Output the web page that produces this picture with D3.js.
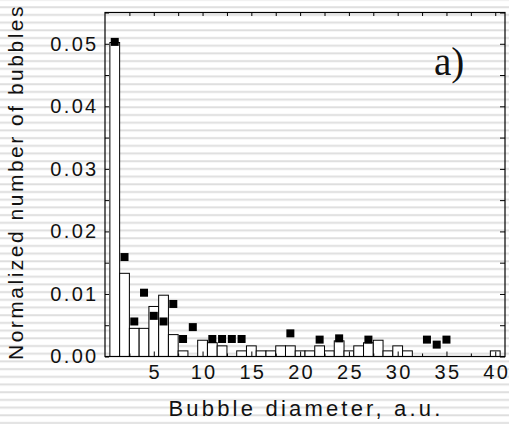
<!DOCTYPE html>
<html lang="en">
<head>
    <meta charset="UTF-8">
    <title>Bubble diameter distribution</title>
    <style>
        body { margin: 0; background: #fff; }
        svg { display: block; }
        .tick text {
          font-family: "Liberation Sans", Arial, sans-serif;
          font-size: 20px;
          letter-spacing: 2.3px;
          fill: #111;
        }
        .tick line { stroke: #000; }
        .title {
          font-family: "Liberation Sans", Arial, sans-serif;
          fill: #111;
        }
    </style>
</head>
<body>
    <svg width="509" height="424"></svg>
    <script src="https://d3js.org/d3.v7.min.js"></script>
    <script>
        // bin centres (bubble diameter) and the histogram heights
        const diameters = d3.range(1, 41);
        const barValues = [
            0.0502, 0.0133, 0.0045, 0.0045, 0.0080, 0.0098, 0.0035, 0.0009, 0.0000, 0.0026,
            0.0022, 0.0017, 0.0000, 0.0009, 0.0017, 0.0009, 0.0009, 0.0017, 0.0017, 0.0009,
            0.0009, 0.0017, 0.0009, 0.0025, 0.0009, 0.0017, 0.0022, 0.0026, 0.0009, 0.0017,
            0.0009, 0.0000, 0.0000, 0.0000, 0.0000, 0.0000, 0.0000, 0.0000, 0.0000, 0.0009
        ];
        // filled squares
        const squareX = [1, 2, 3, 4, 5, 6, 7, 8, 9, 11, 12, 13, 14, 19, 22, 24, 27, 33, 34, 35];
        const squareValues = [
            0.0503, 0.0159, 0.0056, 0.0102, 0.0065, 0.0056, 0.0084, 0.0028, 0.0047, 0.0028,
            0.0028, 0.0028, 0.0028, 0.0037, 0.0027, 0.0029, 0.0027, 0.0027, 0.0019, 0.0027
        ];
        const xTickLabels = [5, 10, 15, 20, 25, 30, 35, 40];
        const yTickLabels = [0, 0.01, 0.02, 0.03, 0.04, 0.05];

        const svg = d3.select("svg"),
              width = +svg.attr("width"),
              height = +svg.attr("height");

        const mLeft = 105, mRight = 505, mTop = 12.5, mBottom = 356.5;

        // striped background
        const pat = svg.append("defs").append("pattern")
            .attr("id", "stripes")
            .attr("patternUnits", "userSpaceOnUse")
            .attr("width", 10)
            .attr("height", 7.7)
            .attr("y", 6);
        pat.append("rect").attr("width", 10).attr("height", 7.7).attr("fill", "#fff");
        pat.append("rect").attr("width", 10).attr("height", 2.4).attr("fill", "#eeeeee");
        pat.append("rect").attr("y", 0.5).attr("width", 10).attr("height", 1.4).attr("fill", "#dedede");

        svg.append("rect")
            .attr("width", width)
            .attr("height", height)
            .attr("fill", "url(#stripes)");

        const x = d3.scaleLinear().domain([0, 41]).range([mLeft, mRight]);
        const y = d3.scaleLinear().domain([0, 0.055]).range([mBottom, mTop]);

        const binW = x(1) - x(0);

        // bars
        svg.append("g")
            .selectAll("rect")
            .data(diameters.filter((d, i) => barValues[i] > 0))
            .enter().append("rect")
            .attr("x", d => x(d - 0.5))
            .attr("y", d => y(barValues[d - 1]))
            .attr("width", d => Math.min(binW, mRight - x(d - 0.5)))
            .attr("height", d => y(0) - y(barValues[d - 1]))
            .attr("fill", "#fff")
            .attr("stroke", "#000")
            .attr("stroke-width", 1);

        // frame
        svg.append("rect")
            .attr("x", mLeft)
            .attr("y", mTop)
            .attr("width", mRight - mLeft)
            .attr("height", mBottom - mTop)
            .attr("fill", "none")
            .attr("stroke", "#000")
            .attr("stroke-width", 1.2);

        // squares
        svg.append("g")
            .selectAll("rect")
            .data(squareX)
            .enter().append("rect")
            .attr("x", d => x(d) - 4)
            .attr("y", (d, i) => y(squareValues[i]) - 4)
            .attr("width", 8)
            .attr("height", 8)
            .attr("fill", "#000");

        // axes: ticks pointing inside
        const xMinor = d3.range(2.5, 41, 2.5);
        const yMinor = d3.range(0, 0.0551, 0.005);

        const bottomAxis = svg.append("g")
            .attr("transform", `translate(0,${mBottom})`)
            .call(d3.axisBottom(x).tickValues(xMinor).tickSizeInner(-4).tickSizeOuter(0).tickPadding(8)
                .tickFormat(d => xTickLabels.includes(d) ? d : ""));
        bottomAxis.selectAll(".tick line").attr("y2", d => d % 5 === 0 ? -5 : -3);
        bottomAxis.selectAll(".tick text").attr("dx", "1px");

        svg.append("g")
            .attr("transform", `translate(0,${mTop})`)
            .call(d3.axisTop(x).tickValues(xMinor).tickSizeInner(-3.5).tickSizeOuter(0).tickFormat(""));

        svg.append("g")
            .attr("transform", `translate(${mLeft},0)`)
            .call(d3.axisLeft(y).tickValues(yMinor).tickSizeInner(-4).tickSizeOuter(0).tickPadding(6.5)
                .tickFormat(d => yTickLabels.some(v => Math.abs(v - d) < 1e-9) ? d3.format(".2f")(d) : ""));

        svg.append("g")
            .attr("transform", `translate(${mRight},0)`)
            .call(d3.axisRight(y).tickValues(yMinor).tickSizeInner(-5).tickSizeOuter(0).tickFormat(""));

        svg.selectAll(".domain").remove();

        // titles
        svg.append("text")
            .attr("class", "title")
            .attr("x", 306)
            .attr("y", 416)
            .attr("text-anchor", "middle")
            .style("font-size", "22px")
            .style("letter-spacing", "3.2px")
            .text("Bubble diameter, a.u.");

        svg.append("text")
            .attr("class", "title")
            .attr("transform", "translate(23,182) rotate(-90)")
            .attr("text-anchor", "middle")
            .style("font-size", "21px")
            .style("letter-spacing", "2.5px")
            .text("Normalized number of bubbles");

        svg.append("text")
            .attr("x", 434)
            .attr("y", 75)
            .attr("font-family", "'Liberation Serif', 'Times New Roman', serif")
            .attr("font-size", 39)
            .attr("fill", "#111")
            .text("a)");
    </script>
</body>
</html>
